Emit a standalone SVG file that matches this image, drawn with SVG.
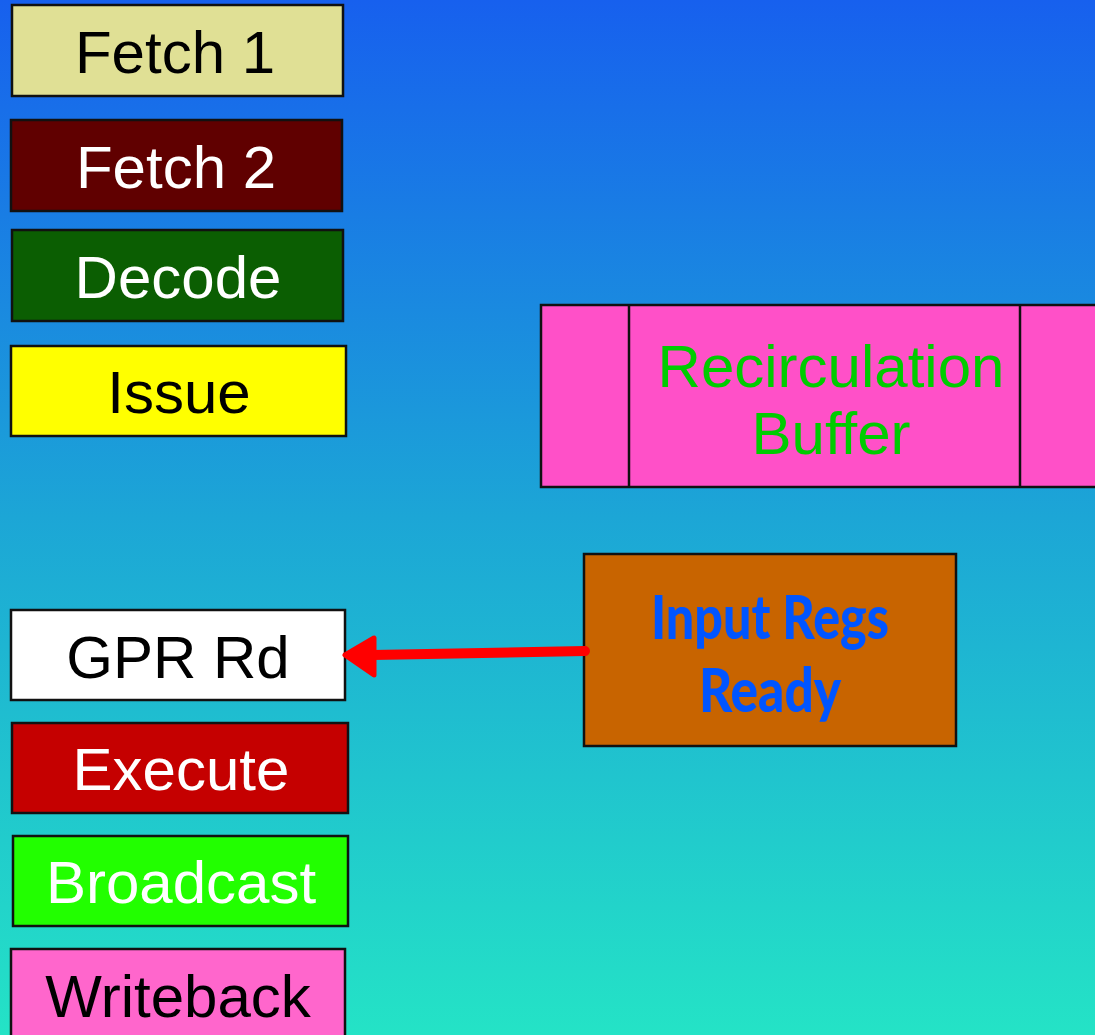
<svg xmlns="http://www.w3.org/2000/svg" width="1095" height="1035" viewBox="0 0 1095 1035">
  <defs>
    <linearGradient id="bg" x1="0" y1="0" x2="0" y2="1">
      <stop offset="0" stop-color="#1760ee"/>
      <stop offset="0.5" stop-color="#1ca6d6"/>
      <stop offset="1" stop-color="#24e3c6"/>
    </linearGradient>
  </defs>
  <style>
    .box { stroke: #111; stroke-width: 2.5; }
    .lbl { font-family: "Liberation Sans", Arial, sans-serif; font-size: 60px; text-anchor: middle; }
    .dark { fill: #000; }
    .light { fill: #fff; }
    .ready { font-family: Lato, "Open Sans", sans-serif; font-weight: 900; font-size: 61px; fill: #0055ff; text-anchor: middle; }
  </style>

  <rect width="1095" height="1035" fill="url(#bg)"/>

  <!-- pipeline stages -->
  <g id="fetch1">
    <rect class="box" x="12" y="5" width="331" height="91" fill="#e0e095"/>
    <text class="lbl dark" x="175" y="73">Fetch 1</text>
  </g>
  <g id="fetch2">
    <rect class="box" x="11" y="120" width="331" height="91" fill="#600000"/>
    <text class="lbl light" x="176" y="188">Fetch 2</text>
  </g>
  <g id="decode">
    <rect class="box" x="12" y="230" width="331" height="91" fill="#0b5e02"/>
    <text class="lbl light" x="178" y="298">Decode</text>
  </g>
  <g id="issue">
    <rect class="box" x="11" y="346" width="335" height="90" fill="#ffff00"/>
    <text class="lbl dark" x="179" y="413">Issue</text>
  </g>
  <g id="gpr-rd">
    <rect class="box" x="11" y="610" width="334" height="90" fill="#ffffff"/>
    <text class="lbl dark" x="178" y="678">GPR Rd</text>
  </g>
  <g id="execute">
    <rect class="box" x="12" y="723" width="336" height="90" fill="#c50000"/>
    <text class="lbl light" x="181" y="790">Execute</text>
  </g>
  <g id="broadcast">
    <rect class="box" x="13" y="836" width="335" height="90" fill="#22ff00"/>
    <text class="lbl light" x="181" y="903">Broadcast</text>
  </g>
  <g id="writeback">
    <rect class="box" x="11" y="949" width="334" height="100" fill="#ff66cc"/>
    <text class="lbl dark" x="178" y="1017">Writeback</text>
  </g>

  <!-- recirculation buffer -->
  <g id="recirculation-buffer">
    <rect class="box" x="541" y="305" width="570" height="182" fill="#ff50c8"/>
    <line class="box" x1="629" y1="305" x2="629" y2="487"/>
    <line class="box" x1="1020" y1="305" x2="1020" y2="487"/>
    <text class="lbl" x="831" y="387" fill="#00cc00">Recirculation</text>
    <text class="lbl" x="831" y="454" fill="#00cc00">Buffer</text>
  </g>

  <!-- readiness check -->
  <g id="input-regs-ready">
    <rect class="box" x="584" y="554" width="372" height="192" fill="#c86400"/>
    <text class="ready" x="770" y="639" textLength="238" lengthAdjust="spacingAndGlyphs">Input Regs</text>
    <text class="ready" x="770" y="712" textLength="142" lengthAdjust="spacingAndGlyphs">Ready</text>
  </g>

  <g id="connectors">
    <line x1="585" y1="651" x2="372" y2="655" stroke="#ff0000" stroke-width="10" stroke-linecap="round"/>
    <path d="M345,655 L374,638 L374,675 Z" fill="#ff0000" stroke="#ff0000" stroke-width="5" stroke-linejoin="round"/>
  </g>
</svg>
